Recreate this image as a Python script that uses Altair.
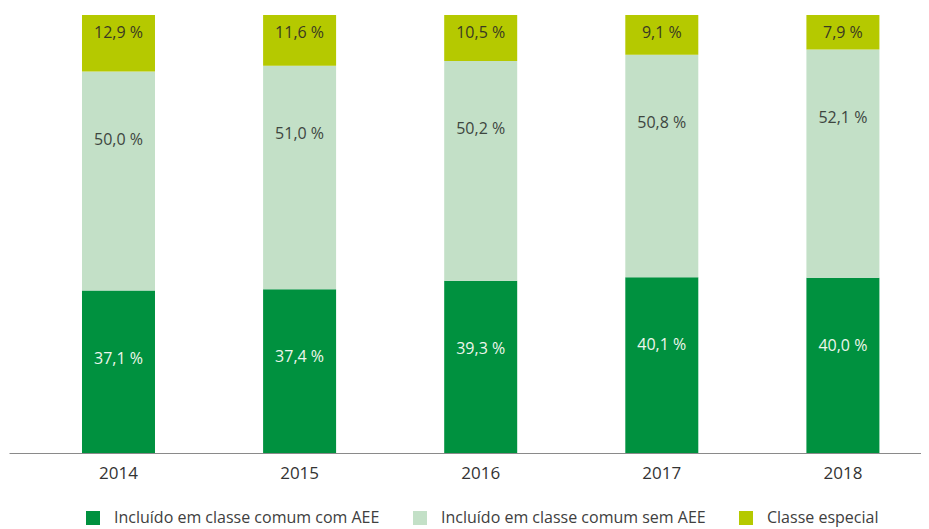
import altair as alt
import pandas as pd

anos = ["2014", "2015", "2016", "2017", "2018"]
com_aee = [37.1, 37.4, 39.3, 40.1, 40.0]
sem_aee = [50.0, 51.0, 50.2, 50.8, 52.1]
classe_especial = [12.9, 11.6, 10.5, 9.1, 7.9]
categorias = [
    "Incluído em classe comum com AEE",
    "Incluído em classe comum sem AEE",
    "Classe especial",
]
cores = ["#00913F", "#C3E0C7", "#B5C900"]

rows = []
for i, ano in enumerate(anos):
    for k, (cat, vals) in enumerate(zip(categorias, [com_aee, sem_aee, classe_especial])):
        v = vals[i]
        rows.append({
            "ano": ano,
            "categoria": cat,
            "ordem": k,
            "valor": v,
            "rotulo": f"{v:.1f}".replace(".", ",") + " %",
        })
df = pd.DataFrame(rows)

FONT = "Open Sans"

base = alt.Chart(df).transform_stack(
    stack="valor", groupby=["ano"], as_=["y0", "y1"],
    sort=[alt.SortField("ordem", order="ascending")],
)

x_enc = alt.X(
    "ano:N",
    title=None,
    scale=alt.Scale(paddingInner=0.597, paddingOuter=0.3164, align=0.637),
    axis=alt.Axis(
        labelAngle=0, ticks=False, tickSize=0, labelPadding=12,
        labelBaseline="top", labelFontSize=17, labelColor="#333333",
        labelFont=FONT, domainColor="#8a8a8a", domainWidth=1, grid=False,
    ),
)
y_scale = alt.Scale(domain=[0, 100])

bars = base.mark_bar(size=73).encode(
    x=x_enc,
    y=alt.Y("y0:Q", scale=y_scale, axis=None),
    y2="y1:Q",
    color=alt.Color(
        "categoria:N",
        scale=alt.Scale(domain=categorias, range=cores),
        sort=categorias,
        legend=alt.Legend(
            title=None, orient="none", direction="horizontal",
            legendX=76, legendY=495, symbolType="square", symbolSize=196,
            symbolStrokeWidth=0, symbolOpacity=1, labelFontSize=16,
            labelFont=FONT, labelColor="#404040", labelOffset=13,
            columnPadding=32, padding=0, labelLimit=400,
        ),
    ),
)

def labels(cat, dy, color):
    return base.transform_filter(alt.datum.categoria == cat).mark_text(
        dy=dy, baseline="middle", align="center", fontSize=16, font=FONT,
        color=color,
    ).encode(
        x=alt.X("ano:N"),
        y=alt.Y("y1:Q", scale=y_scale),
        text="rotulo:N",
    )

chart = alt.layer(
    bars,
    labels(categorias[0], 68, "#EEF6EC"),
    labels(categorias[1], 68, "#3E463F"),
    labels(categorias[2], 18, "#3A3A22"),
).properties(
    width=912, height=438,
    padding={"left": 1, "top": 7, "right": 0, "bottom": 6},
    background="white",
).configure_view(stroke=None)

chart.save("out.html", embed_options={"renderer": "svg", "actions": False})
